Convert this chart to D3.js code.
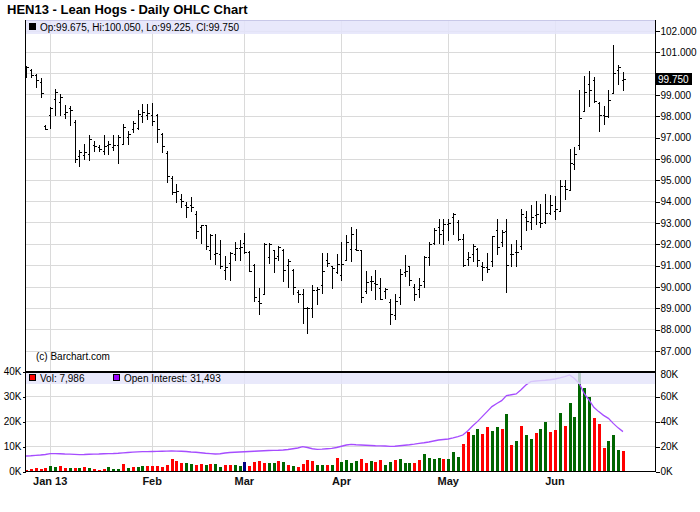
<!DOCTYPE html>
<html><head><meta charset="utf-8">
<script src="https://cdn.jsdelivr.net/npm/d3@7"></script>
<style>
html,body{margin:0;padding:0;background:#fff;}
svg{display:block;font-family:"Liberation Sans",Arial,sans-serif;}
</style></head>
<body><svg id="c" width="700" height="512"></svg>
<script>
const title = "HEN13 - Lean Hogs - Daily OHLC Chart";
const monthLabels = ["Jan 13","Feb","Mar","Apr","May","Jun"];
const monthStartIdx = [5,26,45,65,87,109];
const priceTicks = [87,88,89,90,91,92,93,94,95,96,97,98,99,100,101,102];
const volTicksK = [0,10,20,30,40];
const oiTicksK = [0,20,40,60,80];

const opens = [100.05,100.15,99.9,99.58,97.53,98.05,98.78,98.67,98.1,98.36,
97.7,96.1,96.17,96.23,96.64,96.52,96.33,96.64,96.55,96.64,
96.67,97.03,97.39,97.42,97.97,98.05,98.06,98.06,97.16,96.28,
95.1,94.42,94.1,93.8,93.8,93.4,92.8,92.86,91.72,91.53,
91.53,90.78,91.09,91.53,91.8,92.05,91.61,91.03,89.34,89.66,
91.4,91.7,91.45,91.72,91.0,90.78,89.73,89.66,89.0,89.0,
89.84,90.05,91.22,90.94,90.67,90.52,91.25,91.77,91.77,91.69,
89.81,90.28,90.16,89.94,89.81,89.27,88.66,89.5,90.7,90.94,
90.0,89.89,90.28,91.4,92.03,92.78,92.66,92.94,93.25,93.0,
92.23,91.3,91.53,91.77,90.98,90.91,91.19,92.66,92.08,92.6,
91.53,91.6,91.92,93.28,93.02,93.33,93.02,93.02,93.44,93.56,
93.56,94.73,94.53,95.75,96.61,98.25,99.5,99.69,98.59,98.02,
97.97,99.09,100.16,99.675];
const highs = [100.34,100.2,99.97,99.77,97.58,98.4,99.27,99.0,98.52,98.47,
97.8,96.4,96.67,97.1,96.84,96.64,97.1,96.83,97.1,97.1,
97.6,97.27,97.77,98.28,98.55,98.55,98.6,98.1,97.19,96.33,
95.16,94.81,94.34,93.95,94.19,93.53,92.9,92.86,92.47,92.44,
92.19,91.45,91.64,92.08,92.16,92.5,91.66,91.06,89.94,92.03,
92.03,91.73,91.88,91.77,91.3,90.83,89.84,89.89,89.03,90.09,
89.97,91.56,91.56,90.98,91.53,92.08,92.42,92.78,92.7,91.72,
90.72,90.47,90.78,90.41,89.94,89.42,89.63,90.8,91.5,90.98,
90.13,90.41,91.45,92.08,92.75,93.17,93.17,93.17,93.45,93.13,
92.44,91.6,91.97,91.81,91.14,91.56,92.39,93.17,92.63,93.17,
92.0,92.16,93.64,93.56,93.8,94.0,93.88,94.34,94.27,94.22,
94.97,95.0,96.45,96.56,99.19,99.89,100.09,99.81,98.64,98.44,
99.19,101.34,100.36,100.05];
const lows = [99.8,99.84,99.37,98.86,97.36,97.42,98.05,98.05,97.92,97.58,
95.83,95.63,96.0,95.94,96.33,96.33,96.2,96.23,96.4,95.78,
96.67,96.67,97.23,97.39,97.7,97.84,97.58,96.77,96.3,94.89,
94.34,93.95,93.72,93.25,93.53,92.28,92.03,91.77,91.3,91.06,
90.88,90.36,90.31,91.22,91.25,91.56,90.75,89.34,88.72,89.66,
91.1,90.67,91.22,90.28,89.97,89.66,89.27,88.28,87.81,88.59,
89.16,89.69,90.98,89.94,90.63,90.31,91.22,91.19,91.72,89.27,
89.69,89.84,89.42,89.42,89.47,88.22,88.48,89.2,90.48,90.05,
89.38,89.5,89.97,91.03,92.0,92.03,92.0,92.16,92.47,92.19,
90.98,91.03,91.19,90.94,90.31,90.67,90.98,91.53,91.92,89.73,
90.98,90.98,91.77,92.63,92.7,92.94,92.81,92.97,93.38,93.17,
93.56,94.11,94.53,95.52,96.45,98.22,98.48,98.64,97.31,97.63,
97.94,99.06,99.5,99.225];
const closes = [100.3,99.9,99.7,99.06,97.4,98.39,99.11,98.86,98.17,98.28,
95.97,96.3,96.3,96.92,96.6,96.45,96.6,96.67,96.64,97.03,
97.47,97.17,97.66,98.08,98.17,98.12,97.75,97.4,96.6,95.16,
94.42,94.5,94.03,93.72,93.75,92.62,92.86,91.92,92.42,91.56,
90.94,90.9,91.56,91.81,91.84,91.61,90.75,89.53,89.22,91.97,
91.97,91.34,91.84,90.78,91.19,90.0,89.66,89.0,89.0,89.84,
89.89,90.75,91.09,90.88,91.06,91.06,92.08,92.44,91.72,89.5,
90.2,90.25,90.13,89.42,89.89,88.72,89.31,90.6,90.75,90.3,
89.66,90.05,91.4,92.0,92.66,92.47,92.94,92.97,93.38,92.23,
91.03,91.38,91.92,91.22,90.91,90.83,92.39,91.84,92.55,91.0,
91.53,91.64,93.41,93.06,93.25,93.4,92.97,93.44,93.84,93.64,
94.73,94.58,95.78,96.19,97.91,99.11,99.19,98.69,98.02,97.97,
98.72,100.0,100.31,99.75];
// volume in thousands
const volumeK = [0.4,0.67,1.33,0.8,1.33,2.0,1.6,2.13,1.33,1.33,
1.33,1.33,1.73,1.33,0.93,0.5,0.93,1.6,0.93,0.93,
2.93,1.33,1.6,1.6,2.0,2.0,2.0,2.0,1.6,2.4,
4.8,4.0,3.33,3.33,2.93,2.4,2.93,2.4,2.93,2.93,
1.6,2.4,2.4,2.4,2.0,3.6,2.0,3.6,4.0,3.33,
3.33,3.33,4.0,3.6,2.4,2.0,1.6,2.8,4.4,4.0,
2.4,2.4,2.4,2.4,5.2,3.6,4.4,3.2,4.0,4.8,
3.2,4.0,3.6,4.4,2.4,3.6,4.4,4.8,3.2,3.2,
3.2,4.4,6.8,5.2,4.8,5.2,4.8,4.8,7.6,5.6,
10.8,15.6,14.4,16.8,14.8,17.6,16.0,17.6,16.8,22.9,
10.4,12.0,18.0,14.4,12.8,15.2,16.8,19.6,15.6,16.4,
23.2,18.0,27.2,21.6,41.0,33.3,29.7,21.2,18.9,9.2,
12.0,14.4,8.4,7.986];
// u = up (green), d = down (red), n = unchanged (navy)
const volumeDir = ("dddddu" + "uddudu" + "dudddu" + "uudu" + "duudddddd" + "dduudduduu" +
  "dduunddddu" + "udududdddu" + "ududuuu" +
  "uddudduudu" + "uudduuuudu" + "uudduudduu" + "dudud" + "uuduudd" + "uduuuuu" + "ddduuud").split("");
// open interest in thousands
const oiK = [12.0,12.2,12.5,12.8,13.2,13.9,13.9,13.8,13.6,13.5,
13.3,13.1,13.2,13.4,13.5,13.6,13.8,13.9,14.0,14.2,
14.5,14.8,15.1,15.3,15.5,15.5,15.6,15.7,15.8,15.9,
16.0,15.9,15.8,15.6,15.2,15.0,14.6,14.2,13.9,13.6,
13.8,14.4,14.8,15.0,15.2,15.4,15.6,15.8,16.0,16.2,
16.4,16.5,16.6,16.8,17.2,17.8,18.4,19.5,18.8,17.8,
17.3,17.5,17.8,18.1,18.8,19.8,20.8,21.3,21.0,20.8,
20.6,20.4,20.2,20.1,20.0,19.7,19.8,20.2,20.6,21.0,
21.5,22.1,22.6,23.2,24.0,24.8,25.2,25.6,26.5,27.5,
28.8,32.0,36.0,39.5,43.5,47.5,51.5,54.0,56.3,60.3,
61.0,61.6,65.0,68.8,71.5,72.0,72.3,72.6,73.0,73.6,
74.5,75.5,76.8,74.0,70.0,62.0,56.8,51.0,47.5,44.5,
42.1,38.1,34.5,31.493];
const credit = "(c) Barchart.com";

// ---------- layout ----------
const L = 25, R = 655, TOP = 20, SEP = 371, VB = 471;
const svg = d3.select("#c");
const x = d3.scaleLinear().domain([-0.2, 129.6]).range([L, R]);
const yP = d3.scaleLinear().domain([87, 102]).range([350.5, 30.5]);
const yV = d3.scaleLinear().domain([0, 40]).range([VB, SEP]);
const yOI = d3.scaleLinear().domain([0, 80]).range([VB, SEP]);
const gridC = "#dadada";
const n = closes.length;
const idx = d3.range(n);
const px = i => Math.round(x(i)) + 0.5;
const lastC = closes[n-1];

svg.append("defs").append("clipPath").attr("id","volclip")
  .append("rect").attr("x",L).attr("y",SEP+1).attr("width",R-L).attr("height",VB-SEP-1);

// grids
const g = svg.append("g").attr("shape-rendering","crispEdges");
g.selectAll(".hp").data(priceTicks).join("line")
  .attr("x1",L).attr("x2",R).attr("y1",d=>Math.round(yP(d))+0.5).attr("y2",d=>Math.round(yP(d))+0.5)
  .attr("stroke",gridC);
g.selectAll(".hv").data(volTicksK.slice(1,4)).join("line")
  .attr("x1",L).attr("x2",R).attr("y1",d=>Math.round(yV(d))+0.5).attr("y2",d=>Math.round(yV(d))+0.5)
  .attr("stroke",gridC);
g.selectAll(".vm").data(monthStartIdx).join("line")
  .attr("x1",d=>px(d)).attr("x2",d=>px(d)).attr("y1",TOP).attr("y2",VB)
  .attr("stroke",gridC);

// volume bars
const vcol = {u:"#006600", d:"#ff0000", n:"#000080"};
svg.append("g").attr("clip-path","url(#volclip)").attr("shape-rendering","crispEdges")
  .selectAll("rect").data(idx).join("rect")
  .attr("x",i=>Math.round(x(i))-1).attr("width",3)
  .attr("y",i=>yV(volumeK[i])).attr("height",i=>VB-yV(volumeK[i]))
  .attr("fill",i=>vcol[volumeDir[i]]);

// open interest line
svg.append("path").datum(idx).attr("clip-path","url(#volclip)")
  .attr("fill","none").attr("stroke","#a64dff").attr("stroke-width",1.3)
  .attr("d", d3.line().x(i=>x(i)).y(i=>yOI(oiK[i])));

// OHLC bars
const ob = svg.append("g").attr("shape-rendering","crispEdges").attr("stroke","#000").attr("stroke-width",1);
ob.selectAll(".hl").data(idx).join("line")
  .attr("x1",px).attr("x2",px)
  .attr("y1",i=>Math.round(yP(highs[i]))).attr("y2",i=>Math.round(yP(lows[i]))+1);
ob.selectAll(".op").data(idx).join("line")
  .attr("x1",i=>px(i)-2).attr("x2",i=>px(i))
  .attr("y1",i=>Math.round(yP(opens[i]))+0.5).attr("y2",i=>Math.round(yP(opens[i]))+0.5);
ob.selectAll(".cl").data(idx).join("line")
  .attr("x1",i=>px(i)).attr("x2",i=>px(i)+2)
  .attr("y1",i=>Math.round(yP(closes[i]))+0.5).attr("y2",i=>Math.round(yP(closes[i]))+0.5);

// legend bands
svg.append("rect").attr("x",L).attr("y",TOP).attr("width",R-L).attr("height",14)
  .attr("fill","#e4e4fa").attr("fill-opacity",0.85);
svg.append("line").attr("x1",L).attr("x2",R).attr("y1",TOP+0.5).attr("y2",TOP+0.5)
  .attr("stroke","#c8c8e8").attr("shape-rendering","crispEdges");
svg.append("rect").attr("x",L).attr("y",SEP+1).attr("width",R-L).attr("height",12)
  .attr("fill","#e4e4fa").attr("fill-opacity",0.8);

// frame
const fr = svg.append("g").attr("shape-rendering","crispEdges").attr("stroke","#000");
fr.append("line").attr("x1",L+0.5).attr("x2",L+0.5).attr("y1",TOP).attr("y2",VB+1);
fr.append("line").attr("x1",R+0.5).attr("x2",R+0.5).attr("y1",TOP).attr("y2",VB+1);
fr.append("line").attr("x1",L).attr("x2",R+1).attr("y1",VB+0.5).attr("y2",VB+0.5);
fr.append("line").attr("x1",L).attr("x2",R+1).attr("y1",SEP+0.5).attr("y2",SEP+0.5).attr("stroke-width",2);

// axes
const fmt3 = d3.format(".3f");
const ax1 = svg.append("g").attr("transform",`translate(${R+0.5},0.5)`)
  .call(d3.axisRight(yP).tickValues(priceTicks).tickFormat(fmt3).tickSize(4).tickPadding(1));
const ax2 = svg.append("g").attr("transform",`translate(${L+0.5},0.5)`)
  .call(d3.axisLeft(yV).tickValues(volTicksK).tickFormat(d=>d+"K").tickSize(3).tickPadding(1));
const ax3 = svg.append("g").attr("transform",`translate(${R+0.5},0.5)`)
  .call(d3.axisRight(yOI).tickValues(oiTicksK).tickFormat(d=>d+"K").tickSize(4).tickPadding(1));
[ax1,ax2,ax3].forEach(a=>{
  a.select(".domain").remove();
  a.selectAll("text").attr("font-size",10).attr("fill","#000").attr("font-family","Liberation Sans, Arial, sans-serif");
  a.selectAll("line").attr("shape-rendering","crispEdges");
});
// hide price labels hidden behind the last-close marker
ax1.selectAll(".tick").filter(d=>Math.abs(yP(d)-yP(lastC))<10).select("text").remove();
ax3.selectAll(".tick").filter(d=>d===80).select("line").remove();
ax3.selectAll(".tick").filter(d=>d===80).select("text").attr("dy","0.6em");

// month labels
svg.append("g").selectAll("text").data(monthStartIdx).join("text")
  .attr("x",d=>x(d)).attr("y",485).attr("text-anchor","middle")
  .attr("font-size",11).attr("font-weight","bold").attr("fill","#111")
  .text((d,i)=>monthLabels[i]);

// last close label
svg.append("rect").attr("x",R+1).attr("y",Math.round(yP(lastC))-6).attr("width",36).attr("height",12).attr("fill","#000");
svg.append("text").attr("x",R+3).attr("y",yP(lastC)+4).attr("font-size",10).attr("fill","#fff").text(fmt3(lastC));

// title and legends
svg.append("text").attr("x",7).attr("y",14).attr("font-size",13).attr("font-weight","bold").text(title);
svg.append("rect").attr("x",29.5).attr("y",23.5).attr("width",6).attr("height",6).attr("fill","#000").attr("stroke","#000");
svg.append("text").attr("x",40).attr("y",31).attr("font-size",10)
  .text(`Op:${fmt3(opens[n-1])}, Hi:${fmt3(highs[n-1])}, Lo:${fmt3(lows[n-1])}, Cl:${fmt3(closes[n-1])}`);
svg.append("rect").attr("x",29.5).attr("y",374.5).attr("width",6).attr("height",6).attr("fill","#ff0000").attr("stroke","#000");
svg.append("text").attr("x",40).attr("y",382).attr("font-size",10)
  .text(`Vol: ${d3.format(",")(Math.round(volumeK[n-1]*1000))}`);
svg.append("rect").attr("x",113.5).attr("y",374.5).attr("width",6).attr("height",6).attr("fill","#9900ff").attr("stroke","#000");
svg.append("text").attr("x",124).attr("y",382).attr("font-size",10)
  .text(`Open Interest: ${d3.format(",")(Math.round(oiK[n-1]*1000))}`);
svg.append("text").attr("x",36).attr("y",360).attr("font-size",10).text(credit);
</script></body></html>
